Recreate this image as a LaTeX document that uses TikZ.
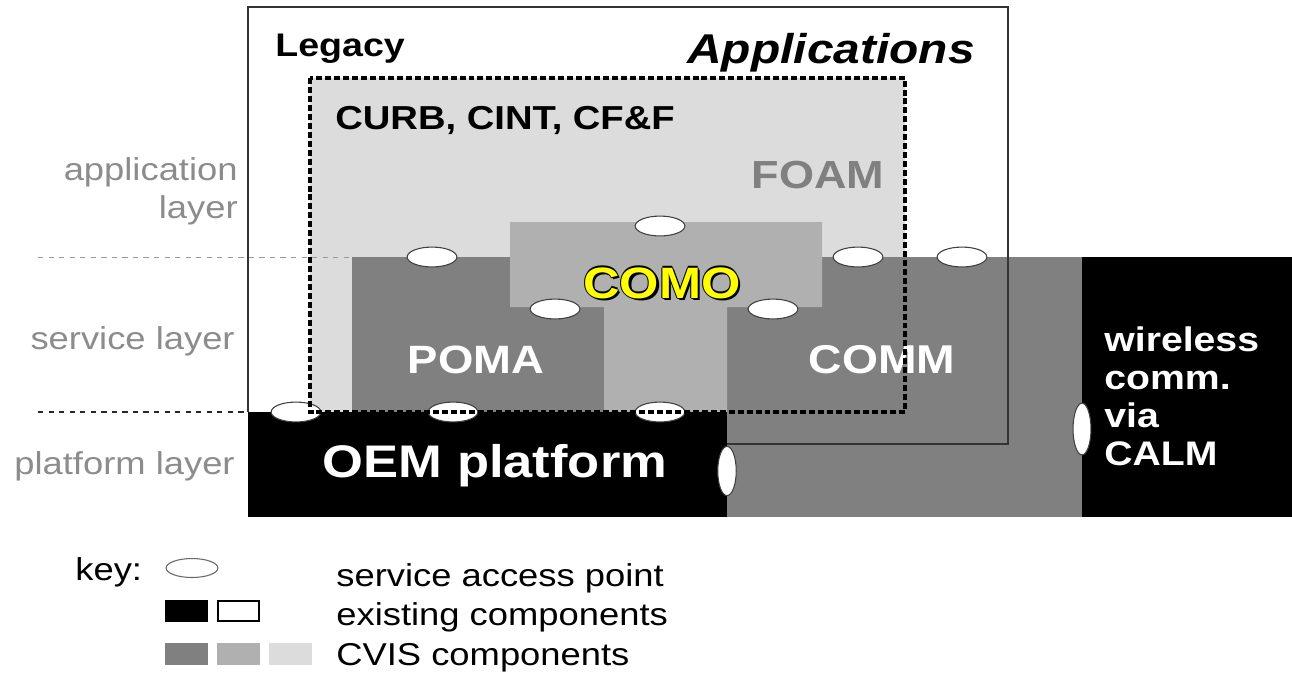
\documentclass[tikz,border=0pt]{standalone}
\usepackage{fontspec}
\setmainfont{Liberation Sans}[FakeStretch=1.15]
\usetikzlibrary{shapes.geometric}
\definecolor{cvisdark}{HTML}{808080}
\definecolor{cvismid}{HTML}{B0B0B0}
\definecolor{cvislight}{HTML}{DCDCDC}
\definecolor{layergray}{HTML}{8C8C8C}
\definecolor{comoyellow}{HTML}{FFFF00}
\begin{document}
\begin{tikzpicture}[x=0.02cm, y=-0.02cm, inner sep=0pt,
    sap/.style={ellipse, draw=black!75, line width=0.6pt, fill=white, minimum width=28.3pt, minimum height=11.3pt},
    vsap/.style={sap, minimum width=10.5pt, minimum height=28pt},
    big/.style={font=\fontsize{#1}{#1}\selectfont\bfseries},
    layer/.style={text=layergray, font=\fontsize{18}{21.5}\selectfont, align=right},
    keytext/.style={font=\fontsize{18}{20}\selectfont}]
  \useasboundingbox (0,0) rectangle (1292,674);

  % blocks
  \fill[white] (248,7) rectangle (1008,444);
  \fill[cvislight] (310,78) rectangle (905,412);
  \fill[cvisdark] (352,257) rectangle (604,412); % POMA
  \fill[cvisdark] (727,257) rectangle (1082,517); % COMM
  \fill[cvismid] (510,222) rectangle (822,307) (604,307) rectangle (727,412); % COMO
  \fill[black] (248,412) rectangle (727,517); % OEM platform
  \fill[black] (1082,257) rectangle (1292,517); % CALM
  \draw[black!80, line width=0.8pt] (248,412) -- (248,7) -- (1008,7) -- (1008,444) -- (727,444);

  % layer guides
  \draw[black!40, dashed, line width=0.5pt] (38,257) -- (352,257);
  \draw[black!85, dashed, line width=0.6pt] (38,412) -- (248,412);

  % service access points
  \node[sap] (sappoma) at (432,257) {};
  \node[sap] (sapcomo) at (660,226) {};
  \node[sap] (sapcomoleft) at (555,309) {};
  \node[sap] (sapcomoright) at (773,309) {};
  \node[sap] (sapcomm) at (858,257) {};
  \node[sap] (sapcommout) at (962,257) {};
  \node[sap] (sapoem) at (296,412) {};
  \node[sap] (sapoempoma) at (453,412) {};
  \node[sap] (sapoemcomo) at (660,412) {};
  \node[vsap] (sapoemcomm) at (727,471) {};
  \node[vsap, minimum width=10.2pt, minimum height=29.5pt] (sapcalm) at (1082,429) {};

  % labels
  \node[anchor=base west, big=18.6] (legacy) at (275,56) {Legacy};
  \node[anchor=base east, font=\fontsize{23.7}{24}\selectfont\bfseries\itshape] (apps) at (975,63) {Applications};
  \node[anchor=base west, big=18.9] (curb) at (335,129) {CURB, CINT, CF\&F};
  \node[big=22.3, text=cvisdark] (foam) at (818,175) {FOAM};
  \foreach \dx/\dy [count=\i] in {-1.2/0, 1.2/0, 0/-1.2, 0/1.2, 2.4/2.4}
    \node[big=25, text=black] (comorim\i) at (662+\dx,283+\dy) {COMO};
  \node[big=25, text=comoyellow] (como) at (662,283) {COMO};
  \node[big=22.5, text=white] (poma) at (476,360) {POMA};
  \node[big=22.9, text=white] (comm) at (882,360) {COMM};
  \node[big=26, text=white] (oem) at (495,466) {OEM platform};
  \node[anchor=west, align=left, text=white, font=\fontsize{19.4}{21.6}\selectfont\bfseries] (calm) at (1104,396) {wireless\\comm.\\via\\CALM};

  \node[layer, anchor=east] (applayer) at (238,191) {application\\layer};
  \node[layer, anchor=base east] (servlayer) at (235,349) {service layer};
  \node[layer, anchor=base east] (platlayer) at (235,474) {platform layer};

  % component boundary
  \draw[line width=2.8pt, dash pattern=on 3.4pt off 1.7pt] (310,78) rectangle (905,412);

  % key
  \node[anchor=base west, keytext] (key) at (75,580) {key:};
  \node[sap, minimum width=29.5pt, minimum height=10.8pt, draw=black!60] (keysap) at (192,568) {};
  \fill[black] (165,600) rectangle (208,622);
  \draw[black, line width=0.8pt, fill=white] (218,601) rectangle (259,621);
  \fill[cvisdark] (165,643) rectangle (208,665);
  \fill[cvismid] (217,643) rectangle (260,665);
  \fill[cvislight] (269,643) rectangle (312,665);
  \node[anchor=base west, keytext] (keysaptext) at (336,586) {service access point};
  \node[anchor=base west, keytext] (keyexist) at (336,625) {existing components};
  \node[anchor=base west, keytext] (keycvis) at (336,665) {CVIS components};
\end{tikzpicture}
\end{document}
